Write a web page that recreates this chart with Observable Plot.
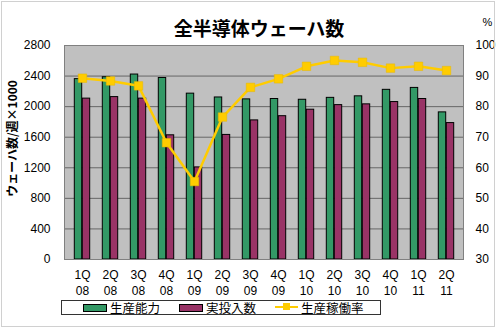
<!DOCTYPE html>
<html><head><meta charset="utf-8">
<script src="https://cdn.jsdelivr.net/npm/d3@7"></script>
<script src="https://cdn.jsdelivr.net/npm/@observablehq/plot@0.6"></script>
<style>
body{margin:0;background:#fff;font-family:"Liberation Sans","Noto Sans CJK JP",sans-serif;}
#wrap{position:relative;width:500px;height:330px;}
#border{position:absolute;left:1px;top:1px;width:494px;height:326px;border:1px solid #d0d0d0;box-sizing:border-box;}
#legend{position:absolute;left:61px;top:300px;width:320px;height:15px;border:1px solid #333;box-sizing:border-box;font-size:12.5px;line-height:13px;font-family:"Noto Sans CJK JP",sans-serif;}
#legend .item{position:absolute;top:0px;display:flex;align-items:center;height:13px;white-space:nowrap;}
#legend .sw{display:inline-block;width:22px;height:6px;border:1px solid #000;margin-right:3px;}
#legend .ln{position:relative;display:inline-block;width:23px;height:13px;margin-right:3px;}
#legend .ln:before{content:"";position:absolute;left:0;right:0;top:5px;height:2px;background:#FFCC00;}
#legend .ln:after{content:"";position:absolute;left:8px;top:2px;width:7px;height:7px;background:#FFCC00;}
</style></head>
<body><div id="wrap"><div id="border"></div><div id="chart"></div><div id="legend"></div></div>
<script>
const quarters = ["1Q","2Q","3Q","4Q","1Q","2Q","3Q","4Q","1Q","2Q","3Q","4Q","1Q","2Q"];
const years = ["08","08","08","08","09","09","09","09","10","10","10","10","11","11"];
const capacity = [2360,2385,2420,2375,2170,2120,2095,2100,2090,2115,2135,2220,2245,1925];
const actual = [2105,2125,2105,1625,1205,1630,1820,1875,1960,2020,2030,2060,2100,1785];
const utilization = [89.3,88.4,86.8,68.2,55.5,76.6,86.3,89.1,93.2,95.1,94.5,92.6,93.2,91.8];
const leftTicks = [0,400,800,1200,1600,2000,2400,2800];
const rightTicks = [30,40,50,60,70,80,90,100];
const seriesNames = ["生産能力","実投入数","生産稼働率"];
const colors = ["#339966","#993366","#FFCC00"];
const title = "全半導体ウェーハ数";
const yLabel = "ウェーハ数/週×1000";

const cats = quarters.map((q,i)=>q+"\n"+years[i]);
const toLeft = v => (v-30)/70*2800;
const rows = cats.map((c,i)=>({c, cap:capacity[i], act:actual[i], u:toLeft(utilization[i])}));

const plot = Plot.plot({
  width:500, height:330,
  marginTop:45, marginLeft:64, marginRight:37, marginBottom:71,
  style:{fontFamily:'"Liberation Sans","Noto Sans CJK JP",sans-serif', fontSize:"12px", background:"transparent", color:"#000"},
  x:{domain:cats, padding:0, label:null},
  y:{domain:[0,2800], label:null},
  marks:[
    Plot.frame({fill:"#C0C0C0"}),
    Plot.ruleY(leftTicks.slice(1), {stroke:"#666", strokeWidth:1}),
    Plot.barY(rows, {x:"c", y:"cap", fill:colors[0], stroke:"#000", strokeWidth:1, insetLeft:6.3, insetRight:14.3}),
    Plot.barY(rows, {x:"c", y:"act", fill:colors[1], stroke:"#000", strokeWidth:1, insetLeft:14.3, insetRight:6.3}),
    Plot.line(rows, {x:"c", y:"u", stroke:colors[2], strokeWidth:2.5}),
    Plot.dot(rows, {x:"c", y:"u", symbol:"square", r:4.8, fill:colors[2], stroke:"#E6B800", strokeWidth:0.5}),
    Plot.frame({stroke:"#808080", strokeWidth:1}),
    Plot.axisX({tickSize:0, tickPadding:8, lineHeight:1.33, fontSize:12}),
    Plot.axisY({ticks:leftTicks, tickFormat:d=>String(d), tickSize:0, tickPadding:14, fontSize:12}),
    Plot.axisY({anchor:"right", ticks:rightTicks.map(toLeft), tickFormat:d=>String(Math.round(d/2800*70+30)), tickSize:0, tickPadding:12, fontSize:12}),
    Plot.text([title], {frameAnchor:"top", dx:-5, dy:-23, fontSize:19, fontWeight:"bold", fontFamily:'"Noto Sans CJK JP",sans-serif'}),
    Plot.text(["%"], {frameAnchor:"top-right", dx:24, dy:-27, fontSize:11, textAnchor:"middle"}),
    Plot.text([yLabel], {frameAnchor:"left", textAnchor:"middle", dx:-51, dy:-14, rotate:-90, fontSize:12, fontWeight:"bold", fontFamily:'"Noto Sans CJK JP",sans-serif'})
  ]
});
document.getElementById("chart").appendChild(plot);

const lg = document.getElementById("legend");
const lefts = [21,117,213];
seriesNames.forEach((n,i)=>{
  const it = document.createElement("div");
  it.className="item"; it.style.left=lefts[i]+"px";
  const sw = document.createElement("span");
  if(i<2){sw.className="sw"; sw.style.background=colors[i];} else {sw.className="ln";}
  it.appendChild(sw);
  it.appendChild(document.createTextNode(n));
  lg.appendChild(it);
});
</script></body></html>
